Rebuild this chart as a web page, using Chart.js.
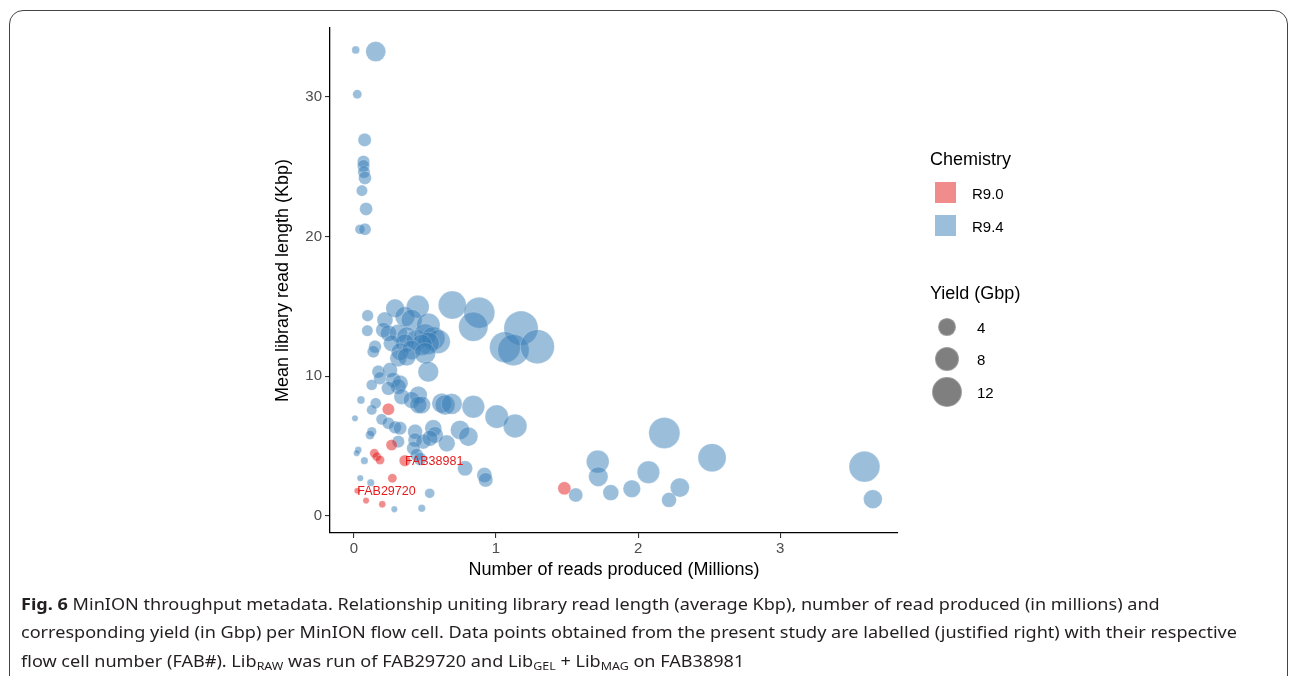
<!DOCTYPE html>
<html>
<head>
<meta charset="utf-8">
<script src="https://cdn.jsdelivr.net/npm/chart.js@4.4.1/dist/chart.umd.min.js"></script>
<style>
  html, body { margin:0; padding:0; background:#fff; }
  body { width:1290px; height:676px; position:relative; overflow:hidden; font-family:"Liberation Sans", Arial, sans-serif; }
  #frame { position:absolute; left:9px; top:10px; width:1279px; height:720px; border:1.3px solid #444; border-radius:14px; box-sizing:border-box; }
  #wrap { position:absolute; left:0; top:0; width:1290px; height:676px; }
  .lg { position:absolute; color:#000; white-space:nowrap; line-height:1; }
  .lgt { font-size:18px; }
  .lgl { font-size:15px; }
  .sq { position:absolute; width:21px; height:21px; }
  .dot { position:absolute; border-radius:50%; background:rgba(0,0,0,0.5); box-sizing:border-box; border:1px solid rgba(255,255,255,0.25); }
  .cap { position:absolute; left:21px; font-family:"Noto Sans", "Open Sans", sans-serif; font-size:16px; color:#231f20; white-space:nowrap; line-height:1; transform-origin:0 50%; }
  .cap sub { font-size:11px; vertical-align:-3px; line-height:0; }
</style>
</head>
<body>
<div id="frame"></div>
<div id="wrap"><canvas id="c" width="1290" height="676"></canvas></div>

<div class="lg lgt" style="left:930px; top:150px;">Chemistry</div>
<div class="sq" id="sq0" style="left:935px; top:182px;"></div>
<div class="lg lgl" style="left:972px; top:186px;">R9.0</div>
<div class="sq" id="sq1" style="left:935px; top:215px;"></div>
<div class="lg lgl" style="left:972px; top:219px;">R9.4</div>
<div class="lg lgt" style="left:930px; top:284px;">Yield (Gbp)</div>
<div id="sizeLegend"></div>

<div class="cap" id="cap1" style="top:596px;"><b>Fig. 6</b> MinION throughput metadata. Relationship uniting library read length (average Kbp), number of read produced (in millions) and</div>
<div class="cap" id="cap2" style="top:624px;">corresponding yield (in Gbp) per MinION flow cell. Data points obtained from the present study are labelled (justified right) with their respective</div>
<div class="cap" id="cap3" style="top:653px;">flow cell number (FAB#). Lib<sub>RAW</sub> was run of FAB29720 and Lib<sub>GEL</sub> + Lib<sub>MAG</sub> on FAB38981</div>

<script>
// ---- Data ----
const chemistry = ['R9.0', 'R9.4'];

// R9.0 flow cells
const r90Reads  = [0.242, 0.265, 0.143, 0.160, 0.183, 0.359, 0.270, 0.023, 0.085, 0.199, 1.481];
const r90Length = [7.64, 5.08, 4.49, 4.25, 4.01, 3.96, 2.70, 1.81, 1.10, 0.84, 1.98];
const r90Yield  = [1.6, 1.3, 0.7, 0.7, 0.7, 1.4, 0.7, 0.05, 0.1, 0.2, 1.9];
const r90Labels = ['', '', '', '', '', 'FAB38981', '', 'FAB29720', '', '', ''];

// R9.4 flow cells
const r94Reads = [
  0.012, 0.153, 0.023, 0.075, 0.067, 0.067, 0.070, 0.077, 0.056, 0.085, 0.042, 0.077,
  0.096, 0.094, 0.289, 0.449, 0.692, 0.882, 0.840, 1.176, 1.063, 1.122, 1.291,
  0.218, 0.359, 0.406, 0.523, 0.206, 0.242, 0.312, 0.371, 0.442, 0.500, 0.558, 0.594,
  0.523, 0.477, 0.359, 0.265, 0.148, 0.136, 0.324, 0.406, 0.500, 0.312, 0.371,
  0.523, 0.171, 0.254, 0.183, 0.277, 0.324, 0.125,
  0.049, 0.153, 0.125, 0.312, 0.242, 0.336, 0.453, 0.406, 0.477, 0.453, 0.618, 0.641,
  0.688, 0.840, 1.005, 1.134, 0.007, 0.195, 0.242, 0.289, 0.324, 0.125, 0.113, 0.430,
  0.558, 0.570, 0.746, 0.805, 0.653, 0.430, 0.488, 0.312, 0.535, 0.418, 0.442, 0.465,
  0.030, 0.019, 0.073, 0.782, 0.918, 0.927, 0.044, 0.118, 0.533, 0.284, 0.477, 1.561,
  2.185, 1.716, 1.720, 1.808, 1.956, 2.073, 2.218, 2.294, 2.521, 3.594, 3.653
];
const r94Length = [
  33.36, 33.24, 30.19, 26.92, 25.36, 25.05, 24.62, 24.20, 23.29, 21.98, 20.52, 20.52,
  14.34, 13.26, 14.87, 14.98, 15.10, 14.55, 13.55, 13.44, 12.08, 11.88, 12.12,
  14.03, 14.27, 14.03, 13.67, 13.31, 13.08, 13.08, 12.83, 12.60, 12.96, 12.72, 12.48,
  12.36, 12.24, 12.36, 12.36, 12.12, 11.76, 11.76, 11.88, 11.65, 11.29, 11.40,
  10.33, 10.33, 10.45, 9.86, 9.74, 9.50, 9.38,
  8.30, 8.07, 7.59, 9.26, 9.14, 8.54, 8.66, 8.30, 7.95, 7.95, 8.07, 7.95,
  8.02, 7.82, 7.11, 6.44, 6.99, 6.92, 6.64, 6.35, 6.28, 6.03, 5.80, 6.03,
  6.28, 5.80, 6.16, 5.68, 5.20, 5.44, 5.32, 5.32, 5.56, 4.85, 4.37, 4.08,
  4.72, 4.49, 3.96, 3.41, 2.93, 2.58, 2.70, 2.38, 1.62, 0.48, 0.55, 1.50,
  5.94, 3.89, 2.81, 1.67, 1.95, 3.13, 1.15, 2.03, 4.17, 3.53, 1.20
];
const r94Yield = [
  0.4, 5.1, 0.7, 2.0, 1.7, 1.7, 1.7, 1.9, 1.3, 1.9, 0.9, 1.6,
  1.4, 1.3, 4.3, 6.7, 10.4, 12.8, 11.4, 15.8, 12.8, 13.3, 15.6,
  3.1, 5.1, 5.7, 7.2, 2.7, 3.2, 4.1, 4.8, 5.6, 6.5, 7.1, 7.4,
  6.5, 5.8, 4.4, 3.3, 1.8, 1.6, 3.8, 4.8, 5.8, 3.5, 4.2,
  5.4, 1.8, 2.6, 1.8, 2.7, 3.1, 1.2,
  0.4, 1.2, 1.0, 2.9, 2.2, 2.9, 3.9, 3.4, 3.8, 3.6, 5.0, 5.1,
  5.5, 6.6, 7.1, 7.3, 0.1, 1.3, 1.6, 1.8, 2.0, 0.8, 0.7, 2.6,
  3.5, 3.3, 4.6, 4.6, 3.4, 2.3, 2.6, 1.7, 3.0, 2.0, 1.9, 1.9,
  0.2, 0.1, 0.3, 2.7, 2.7, 2.4, 0.1, 0.3, 0.9, 0.1, 0.3, 2.3,
  13.0, 6.7, 4.8, 3.0, 3.8, 6.5, 2.6, 4.6, 10.5, 12.7, 4.4
];

const xTicks = [0, 1, 2, 3];
const yTicks = [0, 10, 20, 30];
const legendYield = [4, 8, 12];

// ---- Styling ----
const fillCol = ['rgba(228,26,28,0.5)', 'rgba(55,126,184,0.5)'];
const edgeCol = ['rgba(255,255,255,0.25)', 'rgba(255,255,255,0.25)'];
function sizeFor(y) { return Math.sqrt(8 + 18 * y); }

document.getElementById('sq0').style.background = fillCol[0];
document.getElementById('sq1').style.background = fillCol[1];

// size legend
const sl = document.getElementById('sizeLegend');
const legendCy = [327, 359, 392];
legendYield.forEach((v, i) => {
  const r = sizeFor(v);
  const d = document.createElement('div');
  d.className = 'dot';
  d.style.left = (947 - r) + 'px'; d.style.top = (legendCy[i] - r) + 'px';
  d.style.width = (2 * r) + 'px'; d.style.height = (2 * r) + 'px';
  sl.appendChild(d);
  const t = document.createElement('div');
  t.className = 'lg lgl';
  t.style.left = '977px'; t.style.top = (legendCy[i] - 7) + 'px';
  t.textContent = String(v);
  sl.appendChild(t);
});

// caption width fit
(function(){
  const c2 = document.getElementById('cap2');
  const target = 1237 - 21;
  const w = c2.getBoundingClientRect().width;
  const k = target / w;
  ['cap1','cap2','cap3'].forEach(id => {
    document.getElementById(id).style.transform = 'scaleX(' + k + ')';
  });
})();

function mk(xs, ys, yl) {
  return xs.map((x, i) => ({ x: x, y: ys[i], r: sizeFor(yl[i]) }));
}

const labelPlugin = {
  id: 'fabLabels',
  afterDatasetsDraw(chart) {
    const { ctx, scales } = chart;
    ctx.save();
    ctx.fillStyle = '#E41A1C';
    ctx.font = '12.5px "Liberation Sans", Arial, sans-serif';
    ctx.textAlign = 'left';
    ctx.textBaseline = 'middle';
    r90Labels.forEach((t, i) => {
      if (!t) return;
      ctx.fillText(t, scales.x.getPixelForValue(r90Reads[i]), scales.y.getPixelForValue(r90Length[i]) + 1);
    });
    ctx.restore();
  }
};

const tickFont = { family: '"Liberation Sans", Arial, sans-serif', size: 15 };
const titleFont = { family: '"Liberation Sans", Arial, sans-serif', size: 18, lineHeight: 1.2 };

new Chart(document.getElementById('c'), {
  type: 'bubble',
  data: {
    datasets: [
      { label: chemistry[0], data: mk(r90Reads, r90Length, r90Yield), backgroundColor: fillCol[0], borderColor: edgeCol[0], borderWidth: 0.8 },
      { label: chemistry[1], data: mk(r94Reads, r94Length, r94Yield), backgroundColor: fillCol[1], borderColor: edgeCol[1], borderWidth: 0.8 }
    ]
  },
  options: {
    responsive: false,
    animation: false,
    events: [],
    layout: { padding: { left: 260, top: 28, right: 392, bottom: 95 } },
    plugins: { legend: { display: false }, tooltip: { enabled: false } },
    scales: {
      x: {
        type: 'linear', min: -0.169, max: 3.83,
        afterBuildTicks: s => { s.ticks = xTicks.map(v => ({ value: v })); },
        afterFit: s => { s.height = 48; },
        ticks: { font: tickFont, color: '#4D4D4D', padding: 2, maxRotation: 0 },
        grid: { drawOnChartArea: false, drawTicks: true, tickLength: 5, color: '#333', lineWidth: 1.1 },
        border: { display: true, color: '#000', width: 1.3 },
        title: { display: true, text: 'Number of reads produced (Millions)', font: titleFont, color: '#000', padding: { top: 0, bottom: 0 } }
      },
      y: {
        type: 'linear', min: -1.22, max: 34.93,
        afterBuildTicks: s => { s.ticks = yTicks.map(v => ({ value: v })); },
        afterFit: s => { s.width = 70; },
        ticks: { font: tickFont, color: '#4D4D4D', padding: 3 },
        grid: { drawOnChartArea: false, drawTicks: true, tickLength: 5, color: '#333', lineWidth: 1.1 },
        border: { display: true, color: '#000', width: 1.3 },
        title: { display: true, text: 'Mean library read length (Kbp)', font: titleFont, color: '#000', padding: { top: 12, bottom: 0 } }
      }
    }
  },
  plugins: [labelPlugin]
});
</script>
</body>
</html>
